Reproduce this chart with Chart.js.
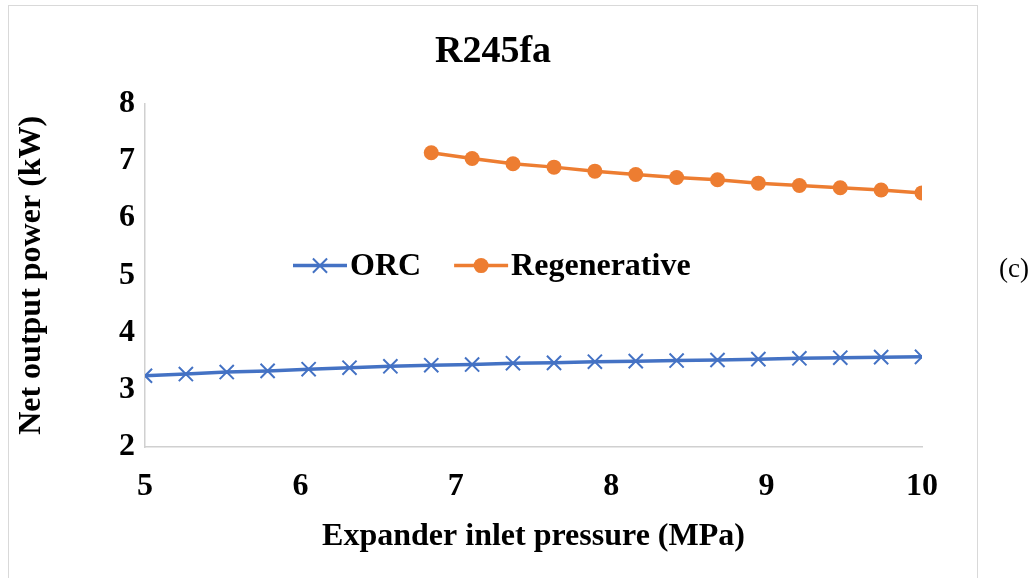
<!DOCTYPE html>
<html>
<head>
<meta charset="utf-8">
<title>R245fa</title>
<script src="https://cdn.jsdelivr.net/npm/chart.js@4.4.1/dist/chart.umd.min.js"></script>
<style>
  html, body { margin: 0; padding: 0; background: #fff; }
  #wrap { position: relative; width: 1034px; height: 578px; }
  #frame {
    position: absolute; left: 8px; top: 5px; width: 970px; height: 580px;
    border: 1px solid #d9d9d9; box-sizing: border-box; pointer-events: none;
  }
  #tag {
    position: absolute; left: 999px; top: 253px;
    font: 27px "Liberation Serif", "Times New Roman", serif; color: #000;
  }
</style>
</head>
<body>
<div id="wrap">
  <canvas id="chart" width="1034" height="578"></canvas>
  <div id="frame"></div>
  <div id="tag">(c)</div>
</div>
<script>
// ============================================================
// Data
// ============================================================
const pressure = [5, 5.263, 5.526, 5.789, 6.053, 6.316, 6.579, 6.842, 7.105, 7.368,
                  7.632, 7.895, 8.158, 8.421, 8.684, 8.947, 9.211, 9.474, 9.737, 10];
const orcPower = [3.245, 3.275, 3.31, 3.33, 3.36, 3.385, 3.41, 3.43, 3.44, 3.465,
                  3.47, 3.49, 3.50, 3.51, 3.52, 3.535, 3.55, 3.56, 3.57, 3.575];
const regenPower = [null, null, null, null, null, null, null, 7.14, 7.04, 6.95,
                    6.89, 6.82, 6.76, 6.71, 6.67, 6.61, 6.57, 6.53, 6.49, 6.44];
const xTicks = [5, 6, 7, 8, 9, 10];
const yTicks = [2, 3, 4, 5, 6, 7, 8];

const SERIF = "'Liberation Serif', 'Times New Roman', serif";
const BLUE = "#4472C4";
const ORANGE = "#ED7D31";
const AXIS = "#d0d0d0";

const toPoints = (ys) => pressure.map((x, i) => ({ x, y: ys[i] }));

/* ============================================================
   Legend drawn inside the plot area (Excel-style)
============================================================ */
const innerLegend = {
  id: "innerLegend",
  afterDatasetsDraw(chart) {
    const { ctx, chartArea } = chart;
    const y = chartArea.top + 162;
    let x = chartArea.left + 148;
    ctx.save();
    ctx.font = `bold 32px ${SERIF}`;
    ctx.textBaseline = "middle";
    chart.data.datasets.forEach((ds) => {
      ctx.strokeStyle = ds.borderColor;
      ctx.fillStyle = ds.backgroundColor;
      ctx.lineWidth = ds.borderWidth;
      ctx.beginPath();
      ctx.moveTo(x, y);
      ctx.lineTo(x + 54, y);
      ctx.stroke();
      ctx.lineWidth = ds.pointBorderWidth || 1;
      Chart.helpers.drawPoint(ctx, {
        pointStyle: ds.pointStyle,
        radius: ds.pointRadius,
        borderWidth: ds.pointBorderWidth,
      }, x + 27, y);
      ctx.fillStyle = "#000";
      ctx.fillText(ds.label, x + 57, y + 1);
      x += 57 + ctx.measureText(ds.label).width + 33;
    });
    ctx.restore();
  },
};

/* ============================================================
   Chart
============================================================ */
const ctx = document.getElementById("chart").getContext("2d");
new Chart(ctx, {
  type: "scatter",
  data: {
    datasets: [
      {
        label: "ORC",
        data: toPoints(orcPower),
        showLine: true,
        borderColor: BLUE,
        backgroundColor: BLUE,
        borderWidth: 3.5,
        pointStyle: "crossRot",
        pointRadius: 10,
        pointBorderWidth: 2,
        pointBorderColor: BLUE,
      },
      {
        label: "Regenerative",
        data: toPoints(regenPower),
        showLine: true,
        spanGaps: false,
        borderColor: ORANGE,
        backgroundColor: ORANGE,
        borderWidth: 3.5,
        pointStyle: "circle",
        pointRadius: 7.5,
        pointBorderWidth: 0,
        pointBackgroundColor: ORANGE,
      },
    ],
  },
  options: {
    responsive: false,
    animation: false,
    layout: { padding: { left: 0, right: 48, top: 0, bottom: 0 } },
    plugins: {
      legend: { display: false },
      tooltip: { enabled: false },
      title: {
        display: true,
        text: "R245fa",
        color: "#000",
        font: { family: SERIF, size: 38, weight: "bold" },
        padding: { top: 29, bottom: 29 },
      },
    },
    scales: {
      x: {
        type: "linear",
        min: 5,
        max: 10,
        afterBuildTicks: (s) => { s.ticks = xTicks.map((v) => ({ value: v })); },
        afterFit: (s) => { s.height = 131; },
        grid: { display: false, drawTicks: false },
        border: { color: AXIS, width: 1.5 },
        ticks: {
          color: "#000",
          padding: 21,
          font: { family: SERIF, size: 32, weight: "bold" },
        },
        title: {
          display: true,
          text: "Expander inlet pressure (MPa)",
          color: "#000",
          font: { family: SERIF, size: 32, weight: "bold" },
          padding: { top: 22, bottom: 22 },
        },
      },
      y: {
        min: 2,
        max: 8,
        afterBuildTicks: (s) => { s.ticks = yTicks.map((v) => ({ value: v })); },
        afterFit: (s) => { s.width = 145; },
        grid: { display: false, drawTicks: false },
        border: { color: AXIS, width: 1.5 },
        ticks: {
          color: "#000",
          padding: 10,
          font: { family: SERIF, size: 32, weight: "bold" },
        },
        title: {
          display: true,
          text: "Net output power (kW)",
          color: "#000",
          font: { family: SERIF, size: 32, weight: "bold" },
          padding: { top: 13, bottom: 13 },
        },
      },
      // empty right-hand band so the title centres on the outer frame
      yPad: {
        position: "right",
        display: true,
        afterFit: (s) => { s.width = 64; },
        grid: { display: false, drawTicks: false },
        border: { display: false },
        ticks: { display: false },
      },
    },
  },
  plugins: [innerLegend],
});
</script>
</body>
</html>
